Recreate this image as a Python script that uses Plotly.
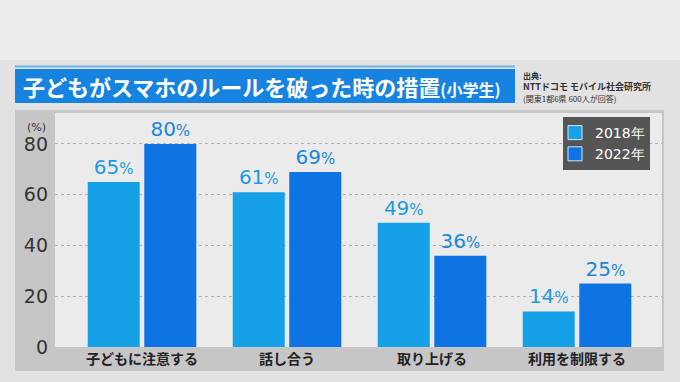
import plotly.graph_objects as go

categories = ["子どもに注意する", "話し合う", "取り上げる", "利用を制限する"]
series_names = ["2018年", "2022年"]
values_2018 = [65, 61, 49, 14]
values_2022 = [80, 69, 36, 25]
y_ticks = [0, 20, 40, 60, 80]

W, H = 680, 382
FONT = "Noto Sans CJK JP"

def px(x):
    return x / W

def py(y):
    return 1 - y / H

fig = go.Figure()
colors = ["#16a0e8", "#0e74e4"]
label_colors = ["#1f9ae0", "#1a87dc"]
for name, vals, c, lc in zip(series_names, [values_2018, values_2022], colors, label_colors):
    fig.add_trace(go.Bar(
        x=categories, y=vals, name=name, marker=dict(color=c, line=dict(width=0)),
        texttemplate="%{y}<span style='font-size:15px'>%</span>",
        textposition="outside", cliponaxis=False, showlegend=False,
        textfont=dict(family="DejaVu Sans", size=20, color=lc),
    ))
    # legend-only entry with a larger square swatch
    fig.add_trace(go.Scatter(
        x=[None], y=[None], mode="markers", name=name,
        marker=dict(symbol="square", size=14, color=c, line=dict(width=1, color="#cfe6f7")),
    ))

shapes = [
    dict(type="rect", xref="paper", yref="paper", x0=0, x1=1, y0=py(60), y1=1,
         fillcolor="#ececec", line_width=0, layer="below"),
    dict(type="rect", xref="paper", yref="paper", x0=px(15), x1=px(664), y0=py(371), y1=py(110),
         fillcolor="#c6c6c6", line_width=0, layer="below"),
    dict(type="rect", xref="paper", yref="paper", x0=px(55), x1=px(662), y0=py(347), y1=py(113),
         fillcolor="#ebebeb", line_width=0, layer="below"),
    dict(type="rect", xref="paper", yref="paper", x0=px(15), x1=px(515), y0=py(67.5), y1=py(65.5),
         fillcolor="#6fb3e8", line_width=0, layer="below"),
    dict(type="rect", xref="paper", yref="paper", x0=px(15), x1=px(515), y0=py(103), y1=py(69),
         fillcolor="#1583df", line_width=0, layer="below"),
]

annotations = [
    dict(text="<b>子どもがスマホのルールを破った時の措置</b><span style='font-size:16px'><b>(小学生)</b></span>",
         x=px(21), y=py(86), xref="paper", yref="paper", xanchor="left", yanchor="middle",
         showarrow=False, font=dict(family=FONT, size=22, color="white")),
    dict(text="<b>出典:</b>", x=px(521), y=py(75.5), xref="paper", yref="paper", xanchor="left",
         yanchor="middle", showarrow=False, font=dict(family=FONT, size=8, color="#333")),
    dict(text="<b>NTTドコモ モバイル社会研究所</b>", x=px(521), y=py(87), xref="paper", yref="paper",
         xanchor="left", yanchor="middle", showarrow=False, font=dict(family=FONT, size=9, color="#333")),
    dict(text="(関東1都6県 600人が回答)", x=px(521), y=py(98.5), xref="paper", yref="paper",
         xanchor="left", yanchor="middle", showarrow=False, font=dict(family=FONT, size=8, color="#333")),
    dict(text="(%)", x=px(48), y=py(127), xref="paper", yref="paper", xanchor="right",
         yanchor="middle", showarrow=False, font=dict(family="DejaVu Sans", size=11, color="#333")),
]

fig.update_layout(
    width=W, height=H, autosize=False,
    margin=dict(l=0, r=0, t=0, b=0, pad=0),
    paper_bgcolor="#e2e2e2", plot_bgcolor="#ebebeb",
    barmode="group", bargap=0.22, bargroupgap=0.08,
    shapes=shapes, annotations=annotations,
    xaxis=dict(domain=[px(55), px(662)], range=[-0.6, 3.586], showgrid=False, zeroline=False,
               showline=False, ticks="", automargin=False,
               tickfont=dict(family=FONT, size=14, color="#222", weight="bold"),
               ticklabelstandoff=2, fixedrange=True),
    yaxis=dict(domain=[py(347), py(113)], range=[0, 92.2], tickvals=y_ticks,
               ticktext=[str(v) for v in y_ticks], automargin=False,
               showgrid=True, gridcolor="#b0b0b0", griddash="dot", gridwidth=1,
               zeroline=False, showline=False, ticks="",
               tickfont=dict(family="DejaVu Sans", size=19, color="#333"),
               ticklabelstandoff=6, fixedrange=True),
    legend=dict(x=px(563), y=py(117), xanchor="left", yanchor="top", bgcolor="#555555",
                font=dict(family="DejaVu Sans", size=14, color="white"),
                tracegroupgap=0, itemwidth=30, borderwidth=0, indentation=-8),
    showlegend=True,
)

fig.write_html("out.html", config={"displayModeBar": False},
               post_script="document.body.style.margin='0';")
